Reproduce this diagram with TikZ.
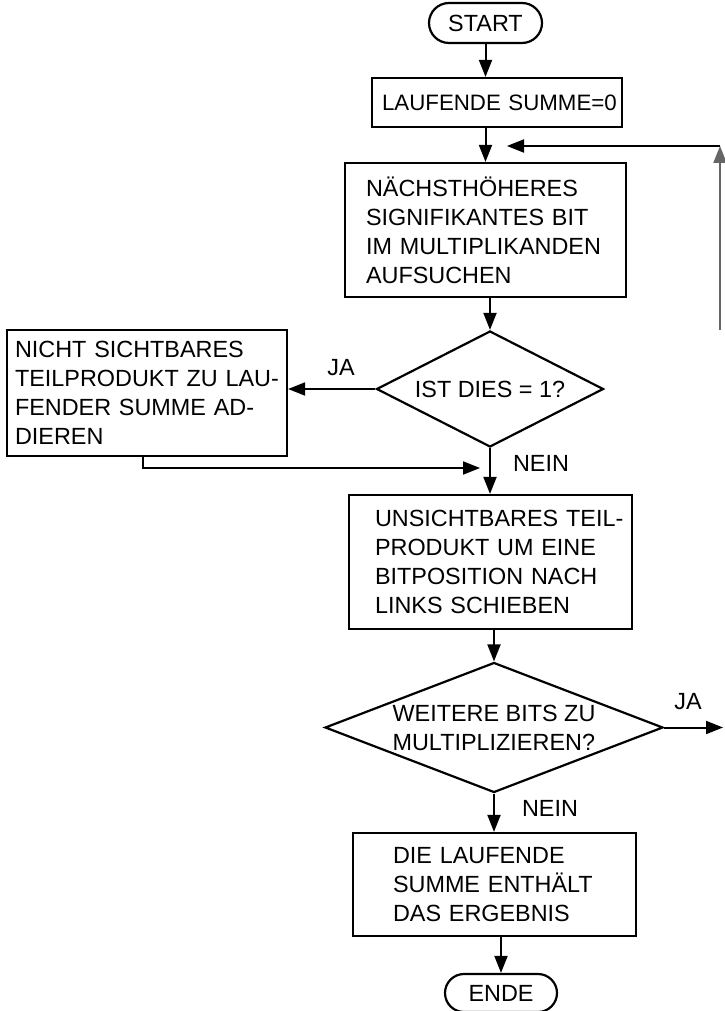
\documentclass[tikz,border=0pt]{standalone}
\usepackage{fontspec}
\setmainfont{Liberation Sans}
\usetikzlibrary{arrows.meta,shapes.geometric,shapes.misc}
\newcommand{\bxl}[1]{\mbox{#1}}
\begin{document}
\begin{tikzpicture}[x=1pt,y=-1pt,
  every node/.style={font=\fontsize{23.4}{29}\selectfont, text=black},
  box/.style={draw, line width=2.2pt, rectangle, align=left, inner ysep=2pt},
  term/.style={draw, line width=2.2pt, rounded rectangle, inner sep=0pt},
  dec/.style={draw, line width=2.2pt, diamond, inner sep=0pt, align=left},
  arr/.style={line width=2pt, -{Triangle[length=17pt,width=13pt]}},
  lbl/.style={inner sep=0pt}]
\path[use as bounding box, fill=white] (0,0) rectangle (724,1011);

\node[term, minimum width=113pt, minimum height=40pt] (start) at (485.5,23) {START};
\node[box, minimum height=49pt, text width=230pt, inner xsep=10pt, font=\fontsize{22.3}{29}\selectfont] (sum0) at (497,102.5) {\bxl{LAUFENDE SUMME=0}};
\node[box, minimum height=134pt, text width=239pt, inner xsep=21pt] (next) at (485.5,230) {\bxl{NÄCHSTHÖHERES}\\\bxl{SIGNIFIKANTES BIT}\\\bxl{IM MULTIPLIKANDEN}\\\bxl{AUFSUCHEN}};
\node[dec, minimum width=227pt, minimum height=116pt, aspect=1.96] (dec1) at (490,389) {IST DIES = 1?};
\node[box, minimum height=126pt, text width=264pt, inner xsep=8pt] (add) at (147,393) {\bxl{NICHT SICHTBARES}\\\bxl{TEILPRODUKT ZU LAU-}\\\bxl{FENDER SUMME AD-}\\\bxl{DIEREN}};
\node[box, minimum height=134pt, text width=231pt, inner xsep=26pt] (shift) at (490.5,562) {\bxl{UNSICHTBARES TEIL-}\\\bxl{PRODUKT UM EINE}\\\bxl{BITPOSITION NACH}\\\bxl{LINKS SCHIEBEN}};
\node[dec, minimum width=338pt, minimum height=130pt, aspect=2.6] (dec2) at (494,727.5) {WEITERE BITS ZU\\MULTIPLIZIEREN?};
\node[box, minimum height=103pt, text width=203pt, inner xsep=40pt] (result) at (494.5,884.5) {\bxl{DIE LAUFENDE}\\\bxl{SUMME ENTHÄLT}\\\bxl{DAS ERGEBNIS}};
\node[term, minimum width=112pt, minimum height=38pt] (ende) at (501,993) {ENDE};

\coordinate (loopend) at (507,146);
\coordinate (corner) at (720,146);
\coordinate (upstart) at (720,330);
\coordinate (jaend) at (723,726);
\coordinate (mdown) at (143,468);
\coordinate (merge) at (480,468);

\draw[arr] (start.south) -- (start.south |- sum0.north);
\draw[arr] (start.south |- sum0.south) -- (start.south |- next.north);
\draw[arr, draw=black!60] (upstart) -- (corner);
\draw[arr] (corner) -- (loopend);
\draw[arr] (dec1.north |- next.south) -- (dec1.north);
\draw[arr] (dec1.west) -- (add.east |- dec1.west);
\draw[arr] (add.south -| mdown) -- (mdown) -- (merge);
\draw[arr] (dec1.south) -- (dec1.south |- shift.north);
\draw[arr] (dec2.north |- shift.south) -- (dec2.north);
\draw[arr] (dec2.east) -- (dec2.east -| jaend);
\draw[arr] (dec2.south) -- (dec2.south |- result.north);
\draw[arr] (ende.north |- result.south) -- (ende.north);

\node[lbl] (ja1) at (341,368) {JA};
\node[lbl] (nein1) at (541,463) {NEIN};
\node[lbl] (ja2) at (688,702) {JA};
\node[lbl] (nein2) at (550,808) {NEIN};
\end{tikzpicture}
\end{document}
